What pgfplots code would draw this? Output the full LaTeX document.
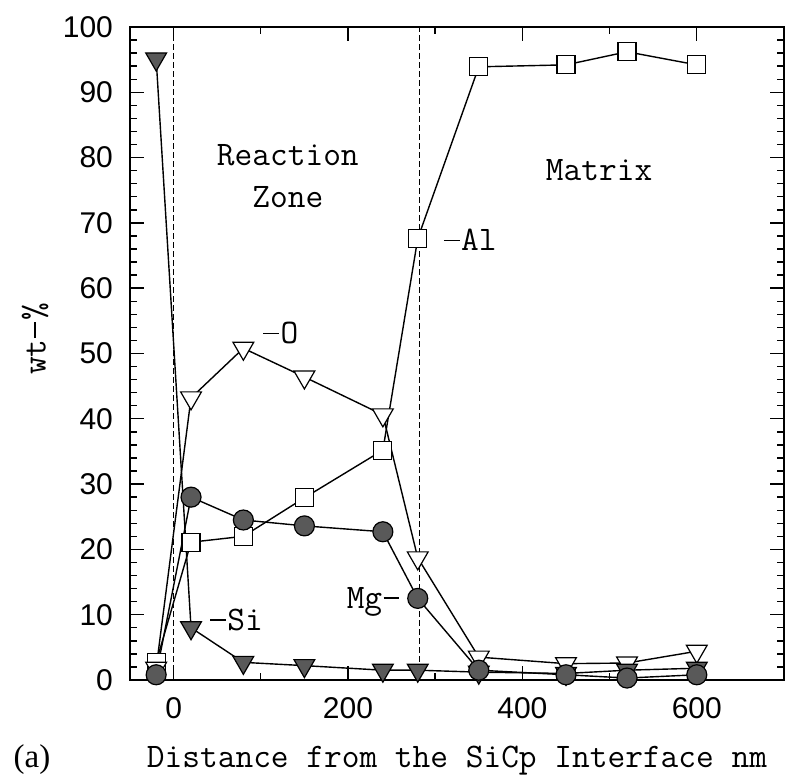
\documentclass[border=0pt]{standalone}
\usepackage{fontspec}
\usepackage{pgfplots}
\pgfplotsset{compat=1.18}
\newfontfamily\tickfont{Liberation Sans}
\newfontfamily\serifb{Liberation Serif}
\newcommand\lab{\fontsize{17.2}{19}\selectfont\ttfamily}
\newcommand\dsh{\kern0.04em\rule[0.27em]{0.46em}{0.05em}\kern0.04em}
\begin{document}
\begin{tikzpicture}
\useasboundingbox (-65pt,-49.5pt) rectangle (328pt,340pt);
\begin{axis}[
  at={(0,0)}, anchor=south west,
  width=327pt, height=326.5pt, scale only axis,
  xmin=-50, xmax=700, ymin=0, ymax=100,
  xtick={0,200,400,600}, minor xtick={100,300,500},
  ytick={0,10,...,100}, minor y tick num=4,
  tick align=inside, major tick length=7pt, minor tick length=3.5pt,
  tick style={black, line width=0.7pt},
  axis line style={line width=1pt},
  tick label style={font=\tickfont\fontsize{15}{15}\selectfont},
  /pgf/number format/assume math mode=true,
  yticklabel style={xshift=-5pt},
  xticklabel style={yshift=-5pt},
  clip=false,
]
\addplot[black, line width=0.8pt, dash pattern=on 3pt off 1.5pt] coordinates {(0,0) (0,100)};
\addplot[black, line width=0.8pt, dash pattern=on 3pt off 1.5pt] coordinates {(282,0) (282,100)};
% Al
\addplot[black, line width=0.7pt, mark=square*, mark size=4.5pt, mark options={fill=white, line width=0.6pt}]
 coordinates {(-20,2.7) (20,21.1) (80,22) (150,27.9) (240,35.2) (280,67.6) (350,93.9) (450,94.2) (520,96.2) (600,94.2)};
% O
\addplot[black, line width=0.7pt, mark=triangle*, mark size=6pt, mark options={fill=white, rotate=180, line width=0.6pt}]
 coordinates {(-20,1.8) (20,43.2) (80,50.8) (150,46.4) (240,40.6) (280,18.7) (350,3.5) (450,2.5) (520,2.6) (600,4.4)};
% Si
\addplot[black, line width=0.7pt, mark=triangle*, mark size=6pt, mark options={fill=black!65, rotate=180, line width=0.6pt}]
 coordinates {(-20,95.1) (20,8) (80,2.7) (150,2.2) (240,1.5) (280,1.5) (350,1.2) (450,1) (520,1.5) (600,1.8)};
% Mg
\addplot[black, line width=0.7pt, mark=*, mark size=5pt, mark options={fill=black!65, line width=0.6pt}]
 coordinates {(-20,0.8) (20,28) (80,24.5) (150,23.6) (240,22.7) (280,12.5) (350,1.5) (450,0.8) (520,0.3) (600,0.8)};

\node[font=\lab, align=center, inner sep=0pt] at (axis cs:131,77.2) {Reaction\\[2pt]Zone};
\node[font=\lab, inner sep=0pt] at (axis cs:488,78.1) {Matrix};
\node[font=\lab, anchor=west, inner sep=0pt] at (axis cs:308,67.4) {\dsh Al};
\node[font=\lab, anchor=west, inner sep=0pt] at (axis cs:101,53.1) {\dsh O};
\node[font=\lab, anchor=west, inner sep=0pt] at (axis cs:40,9.2) {\dsh Si};
\node[font=\lab, anchor=east, inner sep=0pt] at (axis cs:261,12) {Mg\dsh};
\node[font=\lab, rotate=90, inner sep=0pt] at ([xshift=-47.5pt]rel axis cs:0,0.522) {wt\dsh\%};
\node[font=\lab, anchor=base, inner sep=0pt] at ([yshift=-44pt]rel axis cs:0.5,0) {Distance from the SiCp Interface nm};
\node[font=\serifb\fontsize{16.5}{18}\selectfont, anchor=base, inner sep=0pt] at ([xshift=-49pt, yshift=-44pt]rel axis cs:0,0) {(a)};
\end{axis}
\end{tikzpicture}
\end{document}
